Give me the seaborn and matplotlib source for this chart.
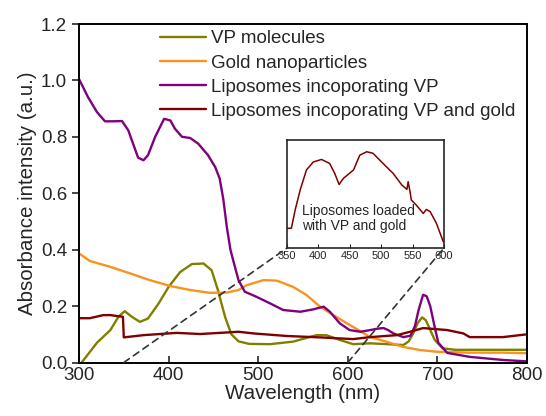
import matplotlib
matplotlib.use("Agg")
import matplotlib.pyplot as plt
from matplotlib.patches import ConnectionPatch
import seaborn as sns

sns.set_style("ticks")
plt.rcParams["font.family"] = ["Liberation Sans", "DejaVu Sans"]

# VP molecules
vp_x = [303, 320, 335, 344, 351, 359, 368, 377, 389, 400, 413, 426, 439, 448, 455, 463, 470, 478,
        490, 513, 539, 565, 576, 591, 606, 625, 644, 662, 668, 673, 678, 683, 687, 690, 697, 706,
        720, 736, 773, 800]
vp_y = [0.0, 0.07, 0.115, 0.162, 0.182, 0.162, 0.144, 0.156, 0.21, 0.268, 0.321, 0.349, 0.351,
        0.327, 0.257, 0.162, 0.10, 0.075, 0.066, 0.065, 0.074, 0.097, 0.097, 0.08, 0.065, 0.068,
        0.065, 0.062, 0.075, 0.103, 0.14, 0.16, 0.15, 0.13, 0.08, 0.05, 0.045, 0.045, 0.045, 0.045]

# Gold nanoparticles
gold_x = [300, 312, 335, 357, 379, 402, 424, 446, 465, 478, 487, 506, 521, 539, 554, 569, 584,
          599, 612, 625, 644, 662, 681, 700, 736, 773, 800]
gold_y = [0.387, 0.36, 0.339, 0.316, 0.292, 0.271, 0.257, 0.247, 0.248, 0.257, 0.274, 0.292, 0.29,
          0.268, 0.239, 0.198, 0.168, 0.139, 0.115, 0.09, 0.073, 0.055, 0.044, 0.038, 0.035, 0.035,
          0.033]

# Liposomes incoporating VP
lipo_x = [300, 310, 320, 329, 338, 348, 355, 361, 366, 372, 377, 385, 395, 402, 407, 415, 424,
          433, 444, 452, 457, 461, 465, 469, 472, 478, 485, 498, 513, 528, 547, 561, 573, 580,
          591, 602, 614, 625, 633, 640, 645, 651, 662, 670, 675, 679, 684, 688, 692, 696, 701,
          711, 736, 773, 800]
lipo_y = [1.005, 0.941, 0.888, 0.855, 0.855, 0.856, 0.823, 0.77, 0.726, 0.717, 0.735, 0.80, 0.864,
          0.858, 0.829, 0.80, 0.796, 0.776, 0.735, 0.693, 0.652, 0.58, 0.48, 0.40, 0.363, 0.292,
          0.251, 0.233, 0.21, 0.186, 0.18, 0.188, 0.198, 0.18, 0.139, 0.115, 0.109, 0.115, 0.12,
          0.122, 0.115, 0.103, 0.09, 0.095, 0.13, 0.186, 0.24, 0.235, 0.20, 0.14, 0.07, 0.034,
          0.02, 0.009, 0.004]

# Liposomes incoporating VP and gold
lvg_x = [300, 312, 327, 335, 349, 350, 372, 409, 435, 457, 478, 495, 532, 569, 606, 625, 655,
         673, 684, 711, 729, 736, 773, 800]
lvg_y = [0.157, 0.157, 0.168, 0.168, 0.162, 0.089, 0.097, 0.105, 0.101, 0.105, 0.109, 0.103,
         0.094, 0.089, 0.083, 0.09, 0.097, 0.112, 0.122, 0.115, 0.103, 0.09, 0.09, 0.1]

# inset: liposomes loaded with VP and gold, 350-600 nm
ins_x = [350, 357, 363, 371, 381, 392, 405, 418, 426, 433, 440, 456, 466, 477, 487, 503, 519,
         533, 541, 543, 546, 548, 556, 567, 572, 578, 588, 599]
ins_y = [0.0864, 0.0864, 0.0923, 0.0988, 0.1053, 0.1079, 0.1087, 0.1074, 0.1042, 0.1006, 0.1026,
         0.1053, 0.1101, 0.1112, 0.1107, 0.1074, 0.1042, 0.1004, 0.099, 0.1015, 0.0982, 0.0956,
         0.0939, 0.0912, 0.0925, 0.0918, 0.088, 0.082]

fig = plt.figure(figsize=(5.46, 4.16), dpi=100)
ax = fig.add_axes([0.1447, 0.1286, 0.8205, 0.8137])

sns.lineplot(x=vp_x, y=vp_y, ax=ax, color="#808000", lw=1.7, label="VP molecules")
sns.lineplot(x=gold_x, y=gold_y, ax=ax, color="#f7931e", lw=1.7, label="Gold nanoparticles")
sns.lineplot(x=lipo_x, y=lipo_y, ax=ax, color="#800080", lw=1.7, label="Liposomes incoporating VP")
sns.lineplot(x=lvg_x, y=lvg_y, ax=ax, color="#800000", lw=1.7,
             label="Liposomes incoporating VP and gold")

ax.set_xlim(300, 800)
ax.set_ylim(0, 1.2)
ax.set_xticks([300, 400, 500, 600, 700, 800])
ax.set_yticks([0.0, 0.2, 0.4, 0.6, 0.8, 1.0, 1.2])
ax.set_yticklabels(["0.0", "0.2", "0.4", "0.6", "0.8", "1.0", "1.2"])
ax.tick_params(axis="x", direction="in", length=5, width=1.2, labelsize=13.5, pad=3)
ax.tick_params(axis="y", direction="out", length=5, width=1.2, labelsize=13.5)
ax.set_xlabel("Wavelength (nm)", fontsize=14.8, labelpad=0)
ax.set_ylabel("Absorbance intensity (a.u.)", fontsize=14.8, labelpad=3)
for s in ax.spines.values():
    s.set_linewidth(1.4)
    s.set_color("black")

ax.legend(loc="upper left", bbox_to_anchor=(0.165, 1.004), frameon=False, fontsize=13.5,
          handlelength=2.45, handletextpad=0.27, labelspacing=0.38, borderaxespad=0)

# inset
axins = fig.add_axes([0.5256, 0.4038, 0.2875, 0.2596])
sns.lineplot(x=ins_x, y=ins_y, ax=axins, color="#800000", lw=1.1)
axins.set_xlim(350, 600)
axins.set_ylim(0.08, 0.115)
axins.set_xticks([350, 400, 450, 500, 550, 600])
axins.set_yticks([])
axins.tick_params(axis="x", direction="in", length=3, labelsize=8, pad=2)
for s in axins.spines.values():
    s.set_linewidth(1.2)
axins.text(0.095, 0.14, "Liposomes loaded\nwith VP and gold", transform=axins.transAxes,
           fontsize=10, ha="left", va="bottom", linespacing=1.1)

for xa, xb in [(350, 0), (600, 1)]:
    con = ConnectionPatch(xyA=(xa, 0), coordsA="data", axesA=ax,
                          xyB=(xb, 0), coordsB="axes fraction", axesB=axins,
                          linestyle=(0, (4, 3)), color="#333333", lw=1.2)
    fig.add_artist(con)

fig.savefig("out.png", dpi=100)
